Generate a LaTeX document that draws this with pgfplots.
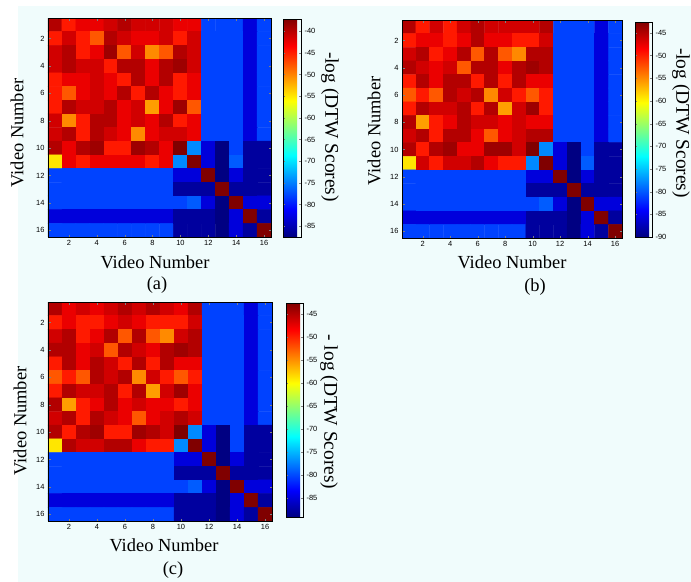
\documentclass[border=0pt]{standalone}
\usepackage{fontspec}
\setmainfont{Liberation Serif}
\newfontfamily\helv{Liberation Sans}
\usepackage{pgfplots}
\pgfplotsset{compat=1.18}
\definecolor{bgc}{RGB}{240,252,252}
\pgfplotsset{
  /pgf/number format/assume math mode=true,
  hm/.style={
    scale only axis, enlargelimits=false,
    xmin=0.5, xmax=16.5, ymin=0.5, ymax=16.5, y dir=reverse,
    xtick={2,4,...,16}, ytick={2,4,...,16},
    tick align=inside, major tick length=2.5bp,
    tick label style={font=\helv\fontsize{7.5}{8}\selectfont},
    axis line style={line width=0.9bp},
    axis on top,
    colormap/jet, colorbar,
  },
  cb/.style={
    at={(parent axis.north east)}, anchor=north west,
    scale only axis,
    tick align=inside, major tick length=2bp,
    yticklabel pos=right,
    tick label style={font=\helv\fontsize{7.5}{8}\selectfont},
    axis line style={line width=0.6bp},
  },
}
\begin{document}
\begin{tikzpicture}
\useasboundingbox (0,0) rectangle (691bp,-582bp);
\fill[white] (0,0) rectangle (691bp,-582bp);
\fill[bgc] (18bp,-6bp) rectangle (691bp,-582bp);

% ---------------- (a)
\begin{axis}[hm, at={(48bp,-18bp)}, anchor=north west, width=223bp, height=219bp,
  point meta min=-87.5, point meta max=-37.2,
  colorbar style={cb, xshift=3.5bp, yshift=-1bp, width=18bp, height=218bp, ytick={-85,-80,...,-40}}]
\addplot[matrix plot*, mesh/cols=16, point meta=explicit] coordinates {
(1,1)[-39.7] (2,1)[-44.7] (3,1)[-42.5] (4,1)[-42.5] (5,1)[-41.2] (6,1)[-39.7] (7,1)[-41.2] (8,1)[-41.2] (9,1)[-41.2] (10,1)[-42.5] (11,1)[-42.5] (12,1)[-77.9] (13,1)[-77.9] (14,1)[-77.9] (15,1)[-83.0] (16,1)[-77.9]
(1,2)[-44.7] (2,2)[-41.2] (3,2)[-44.7] (4,2)[-47.8] (5,2)[-39.7] (6,2)[-41.2] (7,2)[-42.5] (8,2)[-42.5] (9,2)[-41.2] (10,2)[-44.7] (11,2)[-41.2] (12,2)[-77.9] (13,2)[-77.9] (14,2)[-77.9] (15,2)[-83.0] (16,2)[-77.9]
(1,3)[-41.2] (2,3)[-39.7] (3,3)[-44.7] (4,3)[-42.5] (5,3)[-38.7] (6,3)[-47.8] (7,3)[-41.2] (8,3)[-50.3] (9,3)[-47.8] (10,3)[-39.7] (11,3)[-41.2] (12,3)[-77.9] (13,3)[-77.9] (14,3)[-77.9] (15,3)[-83.0] (16,3)[-77.9]
(1,4)[-41.2] (2,4)[-39.7] (3,4)[-41.2] (4,4)[-41.2] (5,4)[-44.7] (6,4)[-39.7] (7,4)[-39.7] (8,4)[-42.5] (9,4)[-39.7] (10,4)[-38.7] (11,4)[-41.2] (12,4)[-77.9] (13,4)[-77.9] (14,4)[-77.9] (15,4)[-83.0] (16,4)[-77.9]
(1,5)[-44.7] (2,5)[-42.5] (3,5)[-42.5] (4,5)[-41.2] (5,5)[-42.5] (6,5)[-44.7] (7,5)[-39.7] (8,5)[-42.5] (9,5)[-39.7] (10,5)[-44.7] (11,5)[-42.5] (12,5)[-77.9] (13,5)[-77.9] (14,5)[-77.9] (15,5)[-83.0] (16,5)[-77.9]
(1,6)[-44.7] (2,6)[-47.8] (3,6)[-42.5] (4,6)[-41.2] (5,6)[-42.5] (6,6)[-39.7] (7,6)[-44.7] (8,6)[-39.7] (9,6)[-42.5] (10,6)[-44.7] (11,6)[-42.5] (12,6)[-77.9] (13,6)[-77.9] (14,6)[-77.9] (15,6)[-83.0] (16,6)[-77.9]
(1,7)[-44.7] (2,7)[-39.7] (3,7)[-41.2] (4,7)[-41.2] (5,7)[-39.7] (6,7)[-42.5] (7,7)[-41.2] (8,7)[-51.3] (9,7)[-42.5] (10,7)[-38.7] (11,7)[-47.8] (12,7)[-77.9] (13,7)[-77.9] (14,7)[-77.9] (15,7)[-83.0] (16,7)[-77.9]
(1,8)[-41.2] (2,8)[-50.3] (3,8)[-44.7] (4,8)[-39.7] (5,8)[-39.7] (6,8)[-42.5] (7,8)[-41.2] (8,8)[-42.5] (9,8)[-39.7] (10,8)[-44.7] (11,8)[-42.5] (12,8)[-77.9] (13,8)[-77.9] (14,8)[-77.9] (15,8)[-83.0] (16,8)[-77.9]
(1,9)[-41.2] (2,9)[-39.7] (3,9)[-44.7] (4,9)[-39.7] (5,9)[-41.2] (6,9)[-42.5] (7,9)[-50.3] (8,9)[-42.5] (9,9)[-41.2] (10,9)[-41.2] (11,9)[-42.5] (12,9)[-77.9] (13,9)[-77.9] (14,9)[-77.9] (15,9)[-83.0] (16,9)[-77.9]
(1,10)[-39.7] (2,10)[-42.5] (3,10)[-39.7] (4,10)[-38.7] (5,10)[-44.7] (6,10)[-44.7] (7,10)[-38.7] (8,10)[-39.7] (9,10)[-42.5] (10,10)[-37.2] (11,10)[-74.4] (12,10)[-83.0] (13,10)[-87.4] (14,10)[-77.9] (15,10)[-86.0] (16,10)[-86.0]
(1,11)[-54.8] (2,11)[-42.5] (3,11)[-44.7] (4,11)[-42.5] (5,11)[-42.5] (6,11)[-42.5] (7,11)[-42.5] (8,11)[-44.7] (9,11)[-42.5] (10,11)[-74.4] (11,11)[-37.2] (12,11)[-83.0] (13,11)[-87.4] (14,11)[-76.7] (15,11)[-86.0] (16,11)[-86.0]
(1,12)[-77.9] (2,12)[-77.9] (3,12)[-77.9] (4,12)[-77.9] (5,12)[-77.9] (6,12)[-77.9] (7,12)[-77.9] (8,12)[-77.9] (9,12)[-77.9] (10,12)[-83.0] (11,12)[-83.0] (12,12)[-37.2] (13,12)[-87.4] (14,12)[-83.0] (15,12)[-86.0] (16,12)[-86.0]
(1,13)[-77.9] (2,13)[-77.9] (3,13)[-77.9] (4,13)[-77.9] (5,13)[-77.9] (6,13)[-77.9] (7,13)[-77.9] (8,13)[-77.9] (9,13)[-77.9] (10,13)[-86.0] (11,13)[-86.0] (12,13)[-86.0] (13,13)[-37.2] (14,13)[-86.0] (15,13)[-86.0] (16,13)[-86.0]
(1,14)[-77.9] (2,14)[-77.9] (3,14)[-77.9] (4,14)[-77.9] (5,14)[-77.9] (6,14)[-77.9] (7,14)[-77.9] (8,14)[-77.9] (9,14)[-77.9] (10,14)[-77.9] (11,14)[-76.7] (12,14)[-83.0] (13,14)[-87.4] (14,14)[-37.2] (15,14)[-83.0] (16,14)[-83.0]
(1,15)[-83.0] (2,15)[-83.0] (3,15)[-83.0] (4,15)[-83.0] (5,15)[-83.0] (6,15)[-83.0] (7,15)[-83.0] (8,15)[-83.0] (9,15)[-83.0] (10,15)[-86.0] (11,15)[-86.0] (12,15)[-86.0] (13,15)[-87.4] (14,15)[-83.0] (15,15)[-37.2] (16,15)[-86.0]
(1,16)[-77.9] (2,16)[-77.9] (3,16)[-77.9] (4,16)[-77.9] (5,16)[-77.9] (6,16)[-77.9] (7,16)[-77.9] (8,16)[-77.9] (9,16)[-77.9] (10,16)[-86.0] (11,16)[-86.0] (12,16)[-86.0] (13,16)[-87.4] (14,16)[-83.0] (15,16)[-86.0] (16,16)[-37.2]
};
\end{axis}

% ---------------- (b)
\begin{axis}[hm, at={(402bp,-20bp)}, anchor=north west, width=220bp, height=218bp,
  point meta min=-90, point meta max=-42.6,
  colorbar style={cb, xshift=4.5bp, yshift=-2bp, width=17bp, height=215bp, ytick={-90,-85,...,-45}}]
\addplot[matrix plot*, mesh/cols=16, point meta=explicit] coordinates {
(1,1)[-45.0] (2,1)[-49.7] (3,1)[-46.4] (4,1)[-49.7] (5,1)[-46.4] (6,1)[-45.0] (7,1)[-46.4] (8,1)[-46.4] (9,1)[-46.4] (10,1)[-46.4] (11,1)[-45.0] (12,1)[-81.0] (13,1)[-81.0] (14,1)[-81.0] (15,1)[-85.7] (16,1)[-81.0]
(1,2)[-49.7] (2,2)[-47.6] (3,2)[-47.6] (4,2)[-49.7] (5,2)[-47.6] (6,2)[-45.0] (7,2)[-47.6] (8,2)[-47.6] (9,2)[-49.7] (10,2)[-49.7] (11,2)[-46.4] (12,2)[-81.0] (13,2)[-81.0] (14,2)[-81.0] (15,2)[-85.7] (16,2)[-81.0]
(1,3)[-46.4] (2,3)[-45.0] (3,3)[-49.7] (4,3)[-47.6] (5,3)[-45.0] (6,3)[-52.6] (7,3)[-45.0] (8,3)[-52.6] (9,3)[-54.9] (10,3)[-45.0] (11,3)[-45.0] (12,3)[-81.0] (13,3)[-81.0] (14,3)[-81.0] (15,3)[-85.7] (16,3)[-81.0]
(1,4)[-45.0] (2,4)[-46.4] (3,4)[-47.6] (4,4)[-46.4] (5,4)[-52.6] (6,4)[-45.0] (7,4)[-45.0] (8,4)[-47.6] (9,4)[-45.0] (10,4)[-44.0] (11,4)[-45.0] (12,4)[-81.0] (13,4)[-81.0] (14,4)[-81.0] (15,4)[-85.7] (16,4)[-81.0]
(1,5)[-49.7] (2,5)[-45.0] (3,5)[-47.6] (4,5)[-45.0] (5,5)[-45.0] (6,5)[-49.7] (7,5)[-45.0] (8,5)[-49.7] (9,5)[-45.0] (10,5)[-47.6] (11,5)[-47.6] (12,5)[-81.0] (13,5)[-81.0] (14,5)[-81.0] (15,5)[-85.7] (16,5)[-81.0]
(1,6)[-52.6] (2,6)[-49.7] (3,6)[-52.6] (4,6)[-45.0] (5,6)[-46.4] (6,6)[-45.0] (7,6)[-54.9] (8,6)[-46.4] (9,6)[-49.7] (10,6)[-52.6] (11,6)[-49.7] (12,6)[-81.0] (13,6)[-81.0] (14,6)[-81.0] (15,6)[-85.7] (16,6)[-81.0]
(1,7)[-49.7] (2,7)[-45.0] (3,7)[-46.4] (4,7)[-46.4] (5,7)[-45.0] (6,7)[-49.7] (7,7)[-45.0] (8,7)[-55.9] (9,7)[-46.4] (10,7)[-44.0] (11,7)[-49.7] (12,7)[-81.0] (13,7)[-81.0] (14,7)[-81.0] (15,7)[-85.7] (16,7)[-81.0]
(1,8)[-45.0] (2,8)[-55.9] (3,8)[-49.7] (4,8)[-47.6] (5,8)[-45.0] (6,8)[-46.4] (7,8)[-46.4] (8,8)[-47.6] (9,8)[-46.4] (10,8)[-47.6] (11,8)[-47.6] (12,8)[-81.0] (13,8)[-81.0] (14,8)[-81.0] (15,8)[-85.7] (16,8)[-81.0]
(1,9)[-46.4] (2,9)[-45.0] (3,9)[-49.7] (4,9)[-45.0] (5,9)[-45.0] (6,9)[-47.6] (7,9)[-52.6] (8,9)[-47.6] (9,9)[-46.4] (10,9)[-45.0] (11,9)[-45.0] (12,9)[-81.0] (13,9)[-81.0] (14,9)[-81.0] (15,9)[-85.7] (16,9)[-81.0]
(1,10)[-45.0] (2,10)[-49.7] (3,10)[-45.0] (4,10)[-44.0] (5,10)[-47.6] (6,10)[-47.6] (7,10)[-44.0] (8,10)[-44.0] (9,10)[-46.4] (10,10)[-42.6] (11,10)[-77.7] (12,10)[-85.7] (13,10)[-89.9] (14,10)[-81.0] (15,10)[-88.6] (16,10)[-88.6]
(1,11)[-59.2] (2,11)[-46.4] (3,11)[-49.7] (4,11)[-46.4] (5,11)[-46.4] (6,11)[-45.0] (7,11)[-47.6] (8,11)[-49.7] (9,11)[-49.7] (10,11)[-77.7] (11,11)[-42.6] (12,11)[-85.7] (13,11)[-89.9] (14,11)[-79.8] (15,11)[-88.6] (16,11)[-88.6]
(1,12)[-81.0] (2,12)[-81.0] (3,12)[-81.0] (4,12)[-81.0] (5,12)[-81.0] (6,12)[-81.0] (7,12)[-81.0] (8,12)[-81.0] (9,12)[-81.0] (10,12)[-85.7] (11,12)[-85.7] (12,12)[-42.6] (13,12)[-89.9] (14,12)[-85.7] (15,12)[-88.6] (16,12)[-88.6]
(1,13)[-81.0] (2,13)[-81.0] (3,13)[-81.0] (4,13)[-81.0] (5,13)[-81.0] (6,13)[-81.0] (7,13)[-81.0] (8,13)[-81.0] (9,13)[-81.0] (10,13)[-88.6] (11,13)[-88.6] (12,13)[-88.6] (13,13)[-42.6] (14,13)[-88.6] (15,13)[-88.6] (16,13)[-88.6]
(1,14)[-81.0] (2,14)[-81.0] (3,14)[-81.0] (4,14)[-81.0] (5,14)[-81.0] (6,14)[-81.0] (7,14)[-81.0] (8,14)[-81.0] (9,14)[-81.0] (10,14)[-81.0] (11,14)[-79.8] (12,14)[-85.7] (13,14)[-89.9] (14,14)[-42.6] (15,14)[-85.7] (16,14)[-85.7]
(1,15)[-85.7] (2,15)[-85.7] (3,15)[-85.7] (4,15)[-85.7] (5,15)[-85.7] (6,15)[-85.7] (7,15)[-85.7] (8,15)[-85.7] (9,15)[-85.7] (10,15)[-88.6] (11,15)[-88.6] (12,15)[-88.6] (13,15)[-89.9] (14,15)[-85.7] (15,15)[-42.6] (16,15)[-88.6]
(1,16)[-81.0] (2,16)[-81.0] (3,16)[-81.0] (4,16)[-81.0] (5,16)[-81.0] (6,16)[-81.0] (7,16)[-81.0] (8,16)[-81.0] (9,16)[-81.0] (10,16)[-88.6] (11,16)[-88.6] (12,16)[-88.6] (13,16)[-89.9] (14,16)[-85.7] (15,16)[-88.6] (16,16)[-42.6]
};
\end{axis}

% ---------------- (c)
\begin{axis}[hm, at={(48bp,-302bp)}, anchor=north west, width=224bp, height=219bp,
  point meta min=-89.1, point meta max=-42.6,
  colorbar style={cb, xshift=5.5bp, yshift=-1bp, width=17bp, height=214bp, ytick={-85,-80,...,-45}}]
\addplot[matrix plot*, mesh/cols=16, point meta=explicit] coordinates {
(1,1)[-44.9] (2,1)[-47.5] (3,1)[-46.3] (4,1)[-47.5] (5,1)[-46.3] (6,1)[-44.9] (7,1)[-46.3] (8,1)[-44.9] (9,1)[-46.3] (10,1)[-47.5] (11,1)[-44.9] (12,1)[-80.3] (13,1)[-80.3] (14,1)[-80.3] (15,1)[-84.9] (16,1)[-80.3]
(1,2)[-49.6] (2,2)[-47.5] (3,2)[-49.6] (4,2)[-49.6] (5,2)[-47.5] (6,2)[-46.3] (7,2)[-47.5] (8,2)[-49.6] (9,2)[-49.6] (10,2)[-49.6] (11,2)[-46.3] (12,2)[-80.3] (13,2)[-80.3] (14,2)[-80.3] (15,2)[-84.9] (16,2)[-80.3]
(1,3)[-46.3] (2,3)[-44.9] (3,3)[-49.6] (4,3)[-47.5] (5,3)[-44.9] (6,3)[-52.4] (7,3)[-44.9] (8,3)[-52.4] (9,3)[-54.7] (10,3)[-46.3] (11,3)[-44.9] (12,3)[-80.3] (13,3)[-80.3] (14,3)[-80.3] (15,3)[-84.9] (16,3)[-80.3]
(1,4)[-44.9] (2,4)[-44.9] (3,4)[-47.5] (4,4)[-46.3] (5,4)[-52.4] (6,4)[-44.9] (7,4)[-46.3] (8,4)[-47.5] (9,4)[-44.9] (10,4)[-44.0] (11,4)[-44.9] (12,4)[-80.3] (13,4)[-80.3] (14,4)[-80.3] (15,4)[-84.9] (16,4)[-80.3]
(1,5)[-49.6] (2,5)[-44.9] (3,5)[-47.5] (4,5)[-44.9] (5,5)[-46.3] (6,5)[-49.6] (7,5)[-44.9] (8,5)[-49.6] (9,5)[-44.9] (10,5)[-47.5] (11,5)[-47.5] (12,5)[-80.3] (13,5)[-80.3] (14,5)[-80.3] (15,5)[-84.9] (16,5)[-80.3]
(1,6)[-52.4] (2,6)[-49.6] (3,6)[-52.4] (4,6)[-44.9] (5,6)[-46.3] (6,6)[-44.9] (7,6)[-54.7] (8,6)[-46.3] (9,6)[-49.6] (10,6)[-52.4] (11,6)[-49.6] (12,6)[-80.3] (13,6)[-80.3] (14,6)[-80.3] (15,6)[-84.9] (16,6)[-80.3]
(1,7)[-49.6] (2,7)[-44.9] (3,7)[-46.3] (4,7)[-46.3] (5,7)[-44.9] (6,7)[-49.6] (7,7)[-44.9] (8,7)[-55.6] (9,7)[-46.3] (10,7)[-44.0] (11,7)[-47.5] (12,7)[-80.3] (13,7)[-80.3] (14,7)[-80.3] (15,7)[-84.9] (16,7)[-80.3]
(1,8)[-44.9] (2,8)[-55.6] (3,8)[-49.6] (4,8)[-47.5] (5,8)[-44.9] (6,8)[-47.5] (7,8)[-46.3] (8,8)[-47.5] (9,8)[-47.5] (10,8)[-49.6] (11,8)[-47.5] (12,8)[-80.3] (13,8)[-80.3] (14,8)[-80.3] (15,8)[-84.9] (16,8)[-80.3]
(1,9)[-46.3] (2,9)[-44.9] (3,9)[-49.6] (4,9)[-44.9] (5,9)[-46.3] (6,9)[-47.5] (7,9)[-52.4] (8,9)[-47.5] (9,9)[-46.3] (10,9)[-44.9] (11,9)[-46.3] (12,9)[-80.3] (13,9)[-80.3] (14,9)[-80.3] (15,9)[-84.9] (16,9)[-80.3]
(1,10)[-44.9] (2,10)[-49.6] (3,10)[-44.9] (4,10)[-44.0] (5,10)[-49.6] (6,10)[-49.6] (7,10)[-44.0] (8,10)[-44.9] (9,10)[-46.3] (10,10)[-42.6] (11,10)[-77.0] (12,10)[-84.9] (13,10)[-89.0] (14,10)[-80.3] (15,10)[-87.7] (16,10)[-87.7]
(1,11)[-58.9] (2,11)[-44.9] (3,11)[-46.3] (4,11)[-46.3] (5,11)[-44.9] (6,11)[-44.9] (7,11)[-47.5] (8,11)[-49.6] (9,11)[-49.6] (10,11)[-77.0] (11,11)[-42.6] (12,11)[-84.9] (13,11)[-89.0] (14,11)[-80.3] (15,11)[-87.7] (16,11)[-87.7]
(1,12)[-80.3] (2,12)[-80.3] (3,12)[-80.3] (4,12)[-80.3] (5,12)[-80.3] (6,12)[-80.3] (7,12)[-80.3] (8,12)[-80.3] (9,12)[-80.3] (10,12)[-84.9] (11,12)[-84.9] (12,12)[-42.6] (13,12)[-89.0] (14,12)[-84.9] (15,12)[-87.7] (16,12)[-87.7]
(1,13)[-80.3] (2,13)[-80.3] (3,13)[-80.3] (4,13)[-80.3] (5,13)[-80.3] (6,13)[-80.3] (7,13)[-80.3] (8,13)[-80.3] (9,13)[-80.3] (10,13)[-87.7] (11,13)[-87.7] (12,13)[-87.7] (13,13)[-42.6] (14,13)[-87.7] (15,13)[-87.7] (16,13)[-87.7]
(1,14)[-80.3] (2,14)[-80.3] (3,14)[-80.3] (4,14)[-80.3] (5,14)[-80.3] (6,14)[-80.3] (7,14)[-80.3] (8,14)[-80.3] (9,14)[-80.3] (10,14)[-80.3] (11,14)[-79.1] (12,14)[-84.9] (13,14)[-89.0] (14,14)[-42.6] (15,14)[-84.9] (16,14)[-84.9]
(1,15)[-84.9] (2,15)[-84.9] (3,15)[-84.9] (4,15)[-84.9] (5,15)[-84.9] (6,15)[-84.9] (7,15)[-84.9] (8,15)[-84.9] (9,15)[-84.9] (10,15)[-87.7] (11,15)[-87.7] (12,15)[-87.7] (13,15)[-89.0] (14,15)[-84.9] (15,15)[-42.6] (16,15)[-87.7]
(1,16)[-80.3] (2,16)[-80.3] (3,16)[-80.3] (4,16)[-80.3] (5,16)[-80.3] (6,16)[-80.3] (7,16)[-80.3] (8,16)[-80.3] (9,16)[-80.3] (10,16)[-87.7] (11,16)[-87.7] (12,16)[-87.7] (13,16)[-89.0] (14,16)[-84.9] (15,16)[-87.7] (16,16)[-42.6]
};
\end{axis}

% ---------------- labels
\begin{scope}[every node/.style={font=\fontsize{18.5}{20}\selectfont, inner sep=0pt}]
\node[rotate=90] at (17bp,-133bp) {Video Number};
\node[rotate=90] at (374bp,-131bp) {Video Number};
\node[rotate=90] at (20bp,-421bp) {Video Number};
\node at (155bp,-262bp) {Video Number};
\node at (512bp,-262bp) {Video Number};
\node at (164bp,-545bp) {Video Number};
\node at (157bp,-285bp) {(a)};
\node at (535bp,-287bp) {(b)};
\node at (173bp,-570bp) {(c)};
\end{scope}
\begin{scope}[every node/.style={font=\fontsize{19.5}{22}\selectfont, inner sep=0pt, rotate=-90}]
\node at (330bp,-127bp) {-log (DTW Scores)};
\node at (681bp,-123bp) {-log (DTW Scores)};
\node at (329bp,-412bp) {- log (DTW Scores)};
\end{scope}
\end{tikzpicture}
\end{document}
